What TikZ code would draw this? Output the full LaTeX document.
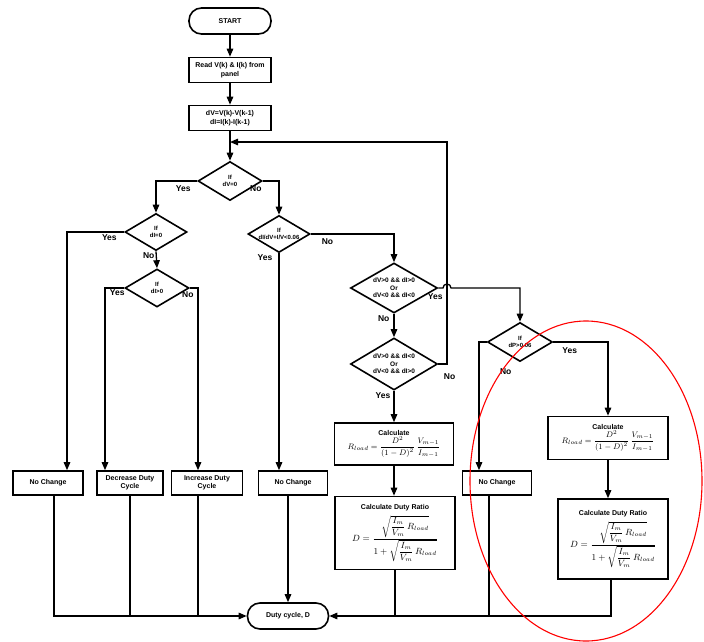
\documentclass[tikz,border=0pt]{standalone}
\usepackage{amsmath}
\usepackage{fontspec}
\setmainfont{Liberation Sans}
\usetikzlibrary{arrows.meta, positioning, shapes.geometric, calc}
\tikzset{
  every picture/.style={font=\bfseries\fontsize{7}{8.5}\selectfont, line width=1.3pt},
  box/.style={draw, fill=white, align=center, inner sep=1pt, line width=1.6pt},
  term/.style={box, rounded corners=12.5pt, minimum width=82pt, minimum height=26pt},
  decision/.style={draw, diamond, aspect=1.7, align=center, inner sep=0pt, line width=1.6pt,
    font=\bfseries\fontsize{6}{7}\selectfont},
  arrow/.style={-{Triangle[length=8pt, width=6.5pt]}},
  lbl/.style={font=\bfseries\fontsize{8.5}{10}\selectfont, inner sep=1pt},
  redring/.style={draw=red, line width=1.1pt},
}
\newcommand{\rloadeq}{\fontsize{8}{9}\selectfont$R_{load}=\dfrac{D^2}{(1-D)^2}\,\dfrac{V_{m-1}}{I_{m-1}}$}
\newcommand{\dutyeq}{\fontsize{9}{10}\selectfont$D=\dfrac{\sqrt{\dfrac{I_m}{V_m}\,R_{load}}}{1+\sqrt{\dfrac{I_m}{V_m}\,R_{load}}}$}

\begin{document}
\begin{tikzpicture}[x=1pt, y=1pt]
  \useasboundingbox (0,0) rectangle (704,-642);
  % main column
  \node[term] (start) at (230,-21) {START};
  \node[box, minimum width=82pt, minimum height=25pt] (read) at (230,-70) {Read V(k) \& I(k) from\\panel};
  \node[box, minimum width=82pt, minimum height=25pt] (diff) at (230,-118) {dV=V(k)-V(k-1)\\dI=I(k)-I(k-1)};
  % decisions
  \node[decision, minimum width=64pt, minimum height=39pt] (d0) at (230,-181) {If\\dV=0};
  \node[decision, minimum width=62pt, minimum height=37pt] (d1) at (156,-232) {If\\dI=0};
  \node[decision, minimum width=64pt, minimum height=38pt] (d2) at (157,-288) {If\\dI>0};
  \node[decision, minimum width=62pt, minimum height=37pt] (d3) at (279,-234) {If\\dI/dV+I/V<0.06};
  \node[decision, minimum width=87pt, minimum height=50pt, font=\bfseries\fontsize{6.5}{7.5}\selectfont] (dA) at (394,-288) {dV>0 \&\& dI>0\\Or\\dV<0 \&\& dI<0};
  \node[decision, minimum width=87pt, minimum height=52pt, font=\bfseries\fontsize{6.5}{7.5}\selectfont] (dB) at (394,-364) {dV>0 \&\& dI<0\\Or\\dV<0 \&\& dI>0};
  \node[decision, minimum width=65pt, minimum height=39pt] (dP) at (520,-342) {If\\dP>0.06};
  % outcomes
  \node[box, minimum width=70pt, minimum height=24pt] (nc1) at (48,-483) {No Change};
  \node[box, minimum width=66pt, minimum height=24pt] (dec) at (130,-483) {Decrease Duty\\Cycle};
  \node[box, minimum width=71pt, minimum height=24pt] (inc) at (207,-483) {Increase Duty\\Cycle};
  \node[box, minimum width=69pt, minimum height=24pt] (nc2) at (293,-483) {No Change};
  \node[box, minimum width=69pt, minimum height=24pt] (nc3) at (497,-483) {No Change};
  \node[box, minimum width=119pt, minimum height=42pt] (calc1) at (394,-444) {Calculate\\\rloadeq};
  \node[box, minimum width=120pt, minimum height=73pt] (ratio1) at (395,-533) {Calculate Duty Ratio\\[4pt]\dutyeq};
  \node[box, minimum width=120pt, minimum height=43pt] (calc2) at (608,-438) {Calculate\\\rloadeq};
  \node[box, minimum width=110pt, minimum height=80pt] (ratio2) at (613,-539) {Calculate Duty Ratio\\[4pt]\dutyeq};
  \node[term, minimum width=81pt] (duty) at (288,-616) {Duty cycle, D};
  \coordinate (hop) at (447,-288);
  \coordinate (back) at (447,-142);

  \draw[arrow] (start) -- (read);
  \draw[arrow] (read) -- (diff);
  \draw[arrow] (diff) -- (d0);
  \draw[arrow] (d0.west) -| node[lbl, pos=0.17, below, yshift=-3pt]{Yes} (d1.north);
  \draw[arrow] (d0.east) -| node[lbl, at start, below, xshift=-7pt, yshift=-3pt]{No} (d3.north);
  \draw[arrow] (d1.west) -| node[lbl, pos=0.13, below, yshift=-1pt]{Yes} ([xshift=19pt]nc1.north);
  \draw[arrow] (d1.south) -- node[lbl, at start, below left]{No} (d2.north);
  \draw[arrow] (d2.west) -| node[lbl, at start, below left, xshift=2pt]{Yes} ([xshift=-25pt]dec.north);
  \draw[arrow] (d2.east) -| node[lbl, at start, below, xshift=-2pt, yshift=-2pt]{No} ([xshift=-9pt]inc.north);
  \draw[arrow] (d3.south) -- node[lbl, at start, below left, xshift=-5pt]{Yes} (d3.south |- nc2.north);
  \draw[arrow] (d3.east) -| node[lbl, pos=0.1, below, yshift=-3pt]{No} (dA.north);
  \draw[arrow] (dA.south) -- node[lbl, at start, below left, xshift=-3pt]{No} (dB.north);
  \draw[arrow] (dA.east) -- node[lbl, at start, below, xshift=-3pt, yshift=-4pt]{Yes} ([xshift=-4pt]hop)
    arc[start angle=180, end angle=0, radius=4pt] -| (dP.north);
  \draw[arrow] (dB.east) -| node[lbl, at start, below right=8pt and 4pt]{No} (back) -- (back -| diff.south);
  \draw[arrow] (dB.south) -- node[lbl, at start, below left, xshift=-2pt]{Yes} (calc1.north);
  \draw[arrow] (calc1) -- (calc1.south |- ratio1.north);
  \draw[arrow] (dP.west) -| node[lbl, at start, xshift=19pt, yshift=-30pt]{No} ([xshift=-18pt]nc3.north);
  \draw[arrow] (dP.east) -| node[lbl, pos=0.15, below, yshift=-4pt]{Yes} (calc2.north);
  \draw[arrow] (calc2) -- (calc2.south |- ratio2.north);
  % into the result
  \draw[arrow] ([xshift=6pt]nc1.south) |- (duty.west);
  \draw (dec.south) -- (dec.south |- duty.west);
  \draw ([xshift=-9pt]inc.south) -- ([xshift=-9pt]inc.south |- duty.west);
  \draw[arrow] (duty.north |- nc2.south) -- (duty.north);
  \draw[arrow] ([xshift=-2pt]ratio2.south) |- (duty.east);
  \draw (ratio1.south) -- (ratio1.south |- duty.east);
  \draw ([xshift=-8pt]nc3.south) -- ([xshift=-8pt]nc3.south |- duty.east);
  % highlight
  \draw[redring] (586,-481) ellipse[x radius=116, y radius=160];
\end{tikzpicture}
\end{document}
